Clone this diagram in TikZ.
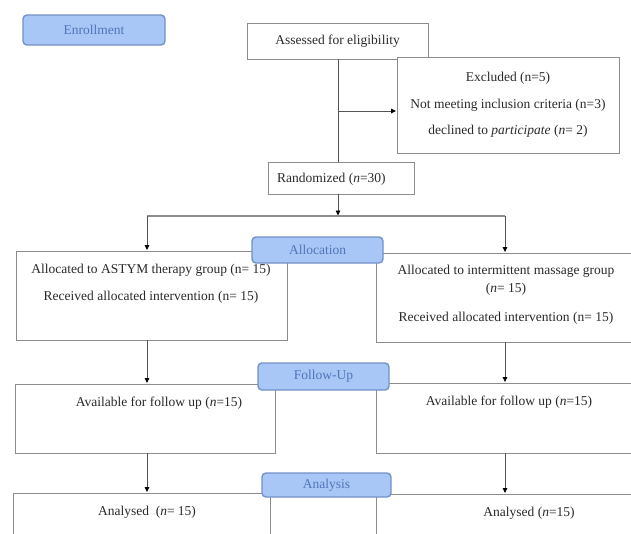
\documentclass[tikz,border=0pt]{standalone}
\usepackage{fontspec}
\setmainfont{Liberation Serif}
\usepackage{tikz}
\usetikzlibrary{arrows.meta,positioning,calc}
\definecolor{stagefill}{HTML}{A8C6F6}
\definecolor{stageedge}{HTML}{7391C6}
\definecolor{stagetext}{HTML}{5076BA}
\definecolor{boxedge}{HTML}{8C8C8C}
\definecolor{txtgray}{HTML}{2A2A2A}

\begin{document}
\begin{tikzpicture}[x=1pt,y=-1pt,
  font=\fontsize{13.5}{16}\selectfont,
  flowbox/.style={draw=boxedge, line width=0.9pt, fill=white, inner sep=0pt, text=txtgray},
  stagebox/.style={draw=stageedge, fill=stagefill, line width=1.4pt, rounded corners=4pt,
    inner sep=0pt, text=stagetext},
  boxtxt/.style={text=txtgray, align=center, inner sep=0pt},
  conn/.style={draw=boxedge!60!black, line width=0.8pt},
  arrow/.style={conn, -{Triangle[length=5pt,width=4.5pt,color=black]}, shorten >=0.5pt},
  thickline/.style={draw=boxedge, line width=1.8pt}]
\useasboundingbox (0,0) rectangle (631,533);

% boxes
\node[flowbox, minimum width=181pt, minimum height=36pt] (assess) at (337.5,41) {Assessed for eligibility};
\node[flowbox, minimum width=222pt, minimum height=96pt, align=center,
  font=\fontsize{13.5}{26.5}\selectfont] (excl) at (508,105)
  {Excluded (n=5)\\Not meeting inclusion criteria (n=3)\\declined to \textit{participate} (\textit{n}= 2)};
\node[flowbox, minimum width=146pt, minimum height=32pt] (rand) at (341,178) {};
\node[boxtxt, anchor=west] (randtxt) at (277,179) {Randomized (\textit{n}=30)};

\node[flowbox, minimum width=271pt, minimum height=89pt] (allocL) at (151.5,295.5) {};
\node[flowbox, minimum width=264pt, minimum height=89pt] (allocR) at (508,297.5) {};
\node[flowbox, minimum width=260pt, minimum height=69pt] (followL) at (145,418.5) {};
\node[flowbox, minimum width=264pt, minimum height=70pt] (followR) at (508,418) {};
\node[flowbox, minimum width=257pt, minimum height=47pt] (analysL) at (141.5,516.5) {};
\node[flowbox, minimum width=264pt, minimum height=46pt] (analysR) at (508,517) {};

% texts in the boxes
\node[boxtxt, font=\fontsize{13.5}{27}\selectfont] (allocLtxt) at (151,284)
  {Allocated to ASTYM therapy group (n= 15)\\Received allocated intervention (n= 15)};
\node[boxtxt, font=\fontsize{13.5}{18}\selectfont] (allocRtxt) at (506,295)
  {Allocated to intermittent massage group\\(\textit{n}= 15)\\[11pt]Received allocated intervention (n= 15)};
\node[boxtxt] (followLtxt) at (159,403) {Available for follow up (\textit{n}=15)};
\node[boxtxt] (followRtxt) at (509,402) {Available for follow up (\textit{n}=15)};
\node[boxtxt] (analysLtxt) at (147,512) {Analysed\ \ (\textit{n}= 15)};
\node[boxtxt] (analysRtxt) at (529,513) {Analysed (\textit{n}=15)};

% connectors
\coordinate (excljoin) at (338,111);
\coordinate (fork) at (338,216);
\coordinate (lbranch) at (147,216);
\coordinate (rbranch) at (505,216);
\draw[conn] (assess.south -| fork) -- (rand.north -| fork);
\draw[arrow] (excljoin) -- (excljoin -| excl.west);
\draw[arrow] (rand.south -| fork) -- (fork);
\draw[thickline] (lbranch) -- (rbranch);
\draw[arrow] (lbranch) -- (lbranch |- allocL.north);
\draw[arrow] (rbranch) -- (rbranch |- allocR.north);
\draw[arrow] (allocL.south -| lbranch) -- (lbranch |- followL.north);
\draw[arrow] (allocR.south -| rbranch) -- (rbranch |- followR.north);
\draw[arrow] (followL.south -| lbranch) -- (lbranch |- analysL.north);
\draw[arrow] (followR.south -| rbranch) -- (rbranch |- analysR.north);

% stage labels
\node[stagebox, minimum width=142pt, minimum height=30pt] (enroll) at (94,30) {Enrollment};
\node[stagebox, minimum width=131pt, minimum height=26pt] (allocation) at (317.5,250) {Allocation};
\node[stagebox, minimum width=131pt, minimum height=27pt] (followup) at (323.5,376.5) {Follow-Up};
\node[stagebox, minimum width=129pt, minimum height=24pt] (analysis) at (326.5,485) {Analysis};
\end{tikzpicture}
\end{document}
